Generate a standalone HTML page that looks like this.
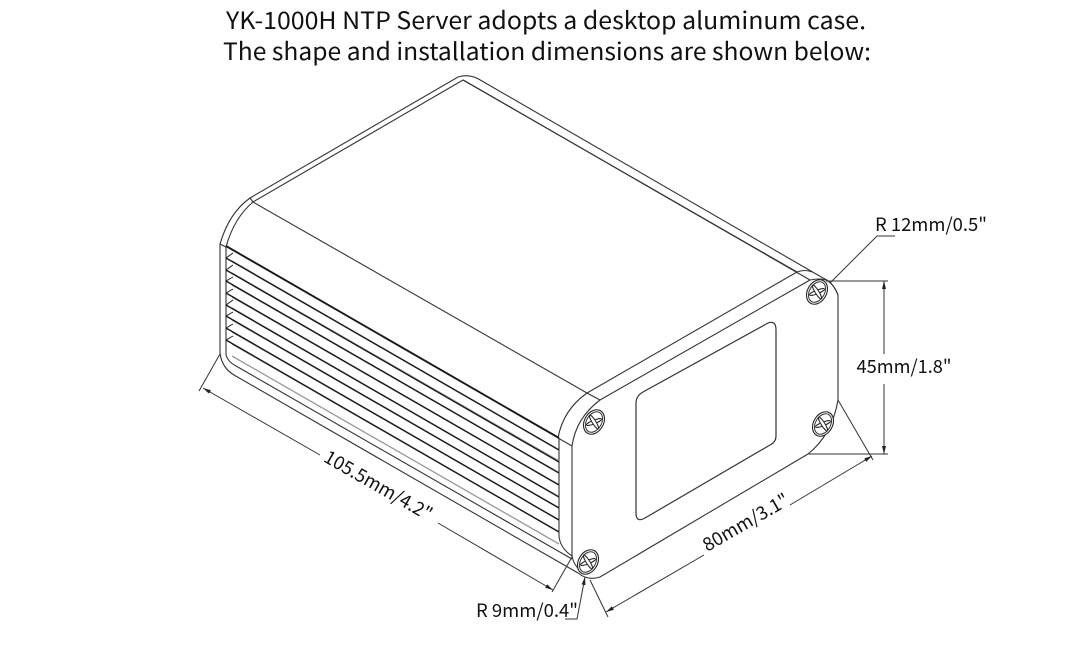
<!DOCTYPE html>
<html><head><meta charset="utf-8"><style>
html,body{margin:0;padding:0;background:#fff}
svg{display:block}
text{font-family:"Noto Sans CJK SC","Liberation Sans",sans-serif;fill:#111}
</style></head><body>
<svg width="1092" height="653" viewBox="0 0 1092 653" xmlns="http://www.w3.org/2000/svg">
<defs>
<g id="s"><ellipse rx="9.5" ry="13" fill="#fff" stroke="#222" stroke-width="1.1"/><ellipse rx="7.5" ry="11" fill="none" stroke="#333" stroke-width="1"/>
<ellipse rx="1.8" ry="8" fill="#fff" stroke="#222" stroke-width="1" transform="rotate(38)"/>
<ellipse rx="1.8" ry="8" fill="#fff" stroke="#222" stroke-width="1" transform="rotate(-62)"/></g>
<marker id="a" viewBox="0 0 8 4" refX="8" refY="2" markerWidth="8" markerHeight="4" orient="auto-start-reverse" markerUnits="userSpaceOnUse"><path d="M0 0L8 2L0 4Z" fill="#222"/></marker>
</defs>
<text x="546" y="29" font-size="24" text-anchor="middle" textLength="640" lengthAdjust="spacingAndGlyphs">YK-1000H NTP Server adopts a desktop aluminum case.</text>
<text x="547" y="60" font-size="24" text-anchor="middle" textLength="648" lengthAdjust="spacingAndGlyphs">The shape and installation dimensions are shown below:</text>

<g fill="none" stroke="#333" stroke-width="1.1">
<path d="M220 244Q229 213 250 198L458 77Q470 73 482 81L823 278Q833 282 838 295V400Q832 435 808 454L600 577Q588 581 578 573L234 375Q222 368 220 353Z"/>
<path d="M226 247Q234 218 253 202L463 80L797 272M226 355Q228 362 236 366L572 559"/>
<path d="M220 244L226 247V355M463 80L465 81L810 280Q820 278 826 280Q834 284 838 295"/>
<path d="M253 202L587 393M250 198L253 202"/>
<path d="M587 393Q563 410 558 438L572 446M600 400Q576 418 572 446V555Q573 565 582 572"/>
<path d="M587 393L797 272Q805 269 812 272M587 393L600 400L810 280"/>
<path d="M559 438V536Q560 548 572 556"/>
<path d="M643 392L768 323Q776 320 776 330V436Q776 442 770 445L645 518Q636 523 636 513V403Q636 396 643 392Z" stroke-width="1.2"/>
</g>

<g fill="none" stroke="#999" stroke-width="1.3">
<path d="M233 250L559 438M232 261L559 450M232 273L559 461M232 285L559 473M232 297L559 485M232 308L559 497M232 320L559 508M232 332L559 520M232 344L559 532M232 356L559 544"/>
</g>
<g fill="none" stroke="#1a1a1a" stroke-width="1.4">
<path d="M226 246L559 438" stroke-width="1.9"/>
<path d="M226 258L559 450M226 270L559 462M226 281L559 473M226 293L559 485M226 305L559 497M226 316L559 508M226 328L559 520M226 340L559 532"/>
<path d="M226 258L233 253M226 270L233 265M226 281L233 277M226 293L233 289M226 305L233 300M226 316L233 312M226 328L233 324M226 340L233 336" stroke-width="1"/>
</g>

<use href="#s" transform="translate(817 292) rotate(30)"/>
<use href="#s" transform="translate(594 422) rotate(30)"/>
<use href="#s" transform="translate(823 424) rotate(30)"/>
<use href="#s" transform="translate(588 562) rotate(30)"/>

<g fill="none" stroke="#333" stroke-width="1">
<path d="M220 354L199 391"/>
<path d="M572 557L552 592"/>
<path d="M203 388L320 455" marker-start="url(#a)"/>
<path d="M438 523L553 590" marker-end="url(#a)"/>
<path d="M590 580L608 617"/>
<path d="M838 400L873 460"/>
<path d="M606 612L704 555" marker-start="url(#a)"/>
<path d="M790 505L872 456" marker-end="url(#a)"/>
<path d="M826 281H888M808 454H888"/>
<path d="M884 281V354" marker-start="url(#a)"/>
<path d="M884 384V454" marker-end="url(#a)"/>
<path d="M830 283L877 236H895"/>
<path d="M565 619H577L585 577" marker-end="url(#a)"/>
</g>

<text x="931" y="231" font-size="18.5" text-anchor="middle" textLength="112" lengthAdjust="spacingAndGlyphs">R 12mm/0.5"</text>
<text x="904" y="373" font-size="18.5" text-anchor="middle" textLength="95" lengthAdjust="spacingAndGlyphs">45mm/1.8"</text>
<text x="527" y="617" font-size="18.5" text-anchor="middle" textLength="102" lengthAdjust="spacingAndGlyphs">R 9mm/0.4"</text>
<text font-size="18.5" text-anchor="middle" textLength="121" lengthAdjust="spacingAndGlyphs" transform="translate(375 491) rotate(29.8)">105.5mm/4.2"</text>
<text font-size="18.5" text-anchor="middle" textLength="96" lengthAdjust="spacingAndGlyphs" transform="translate(749 528) rotate(-30)">80mm/3.1"</text>
</svg>
</body></html>
